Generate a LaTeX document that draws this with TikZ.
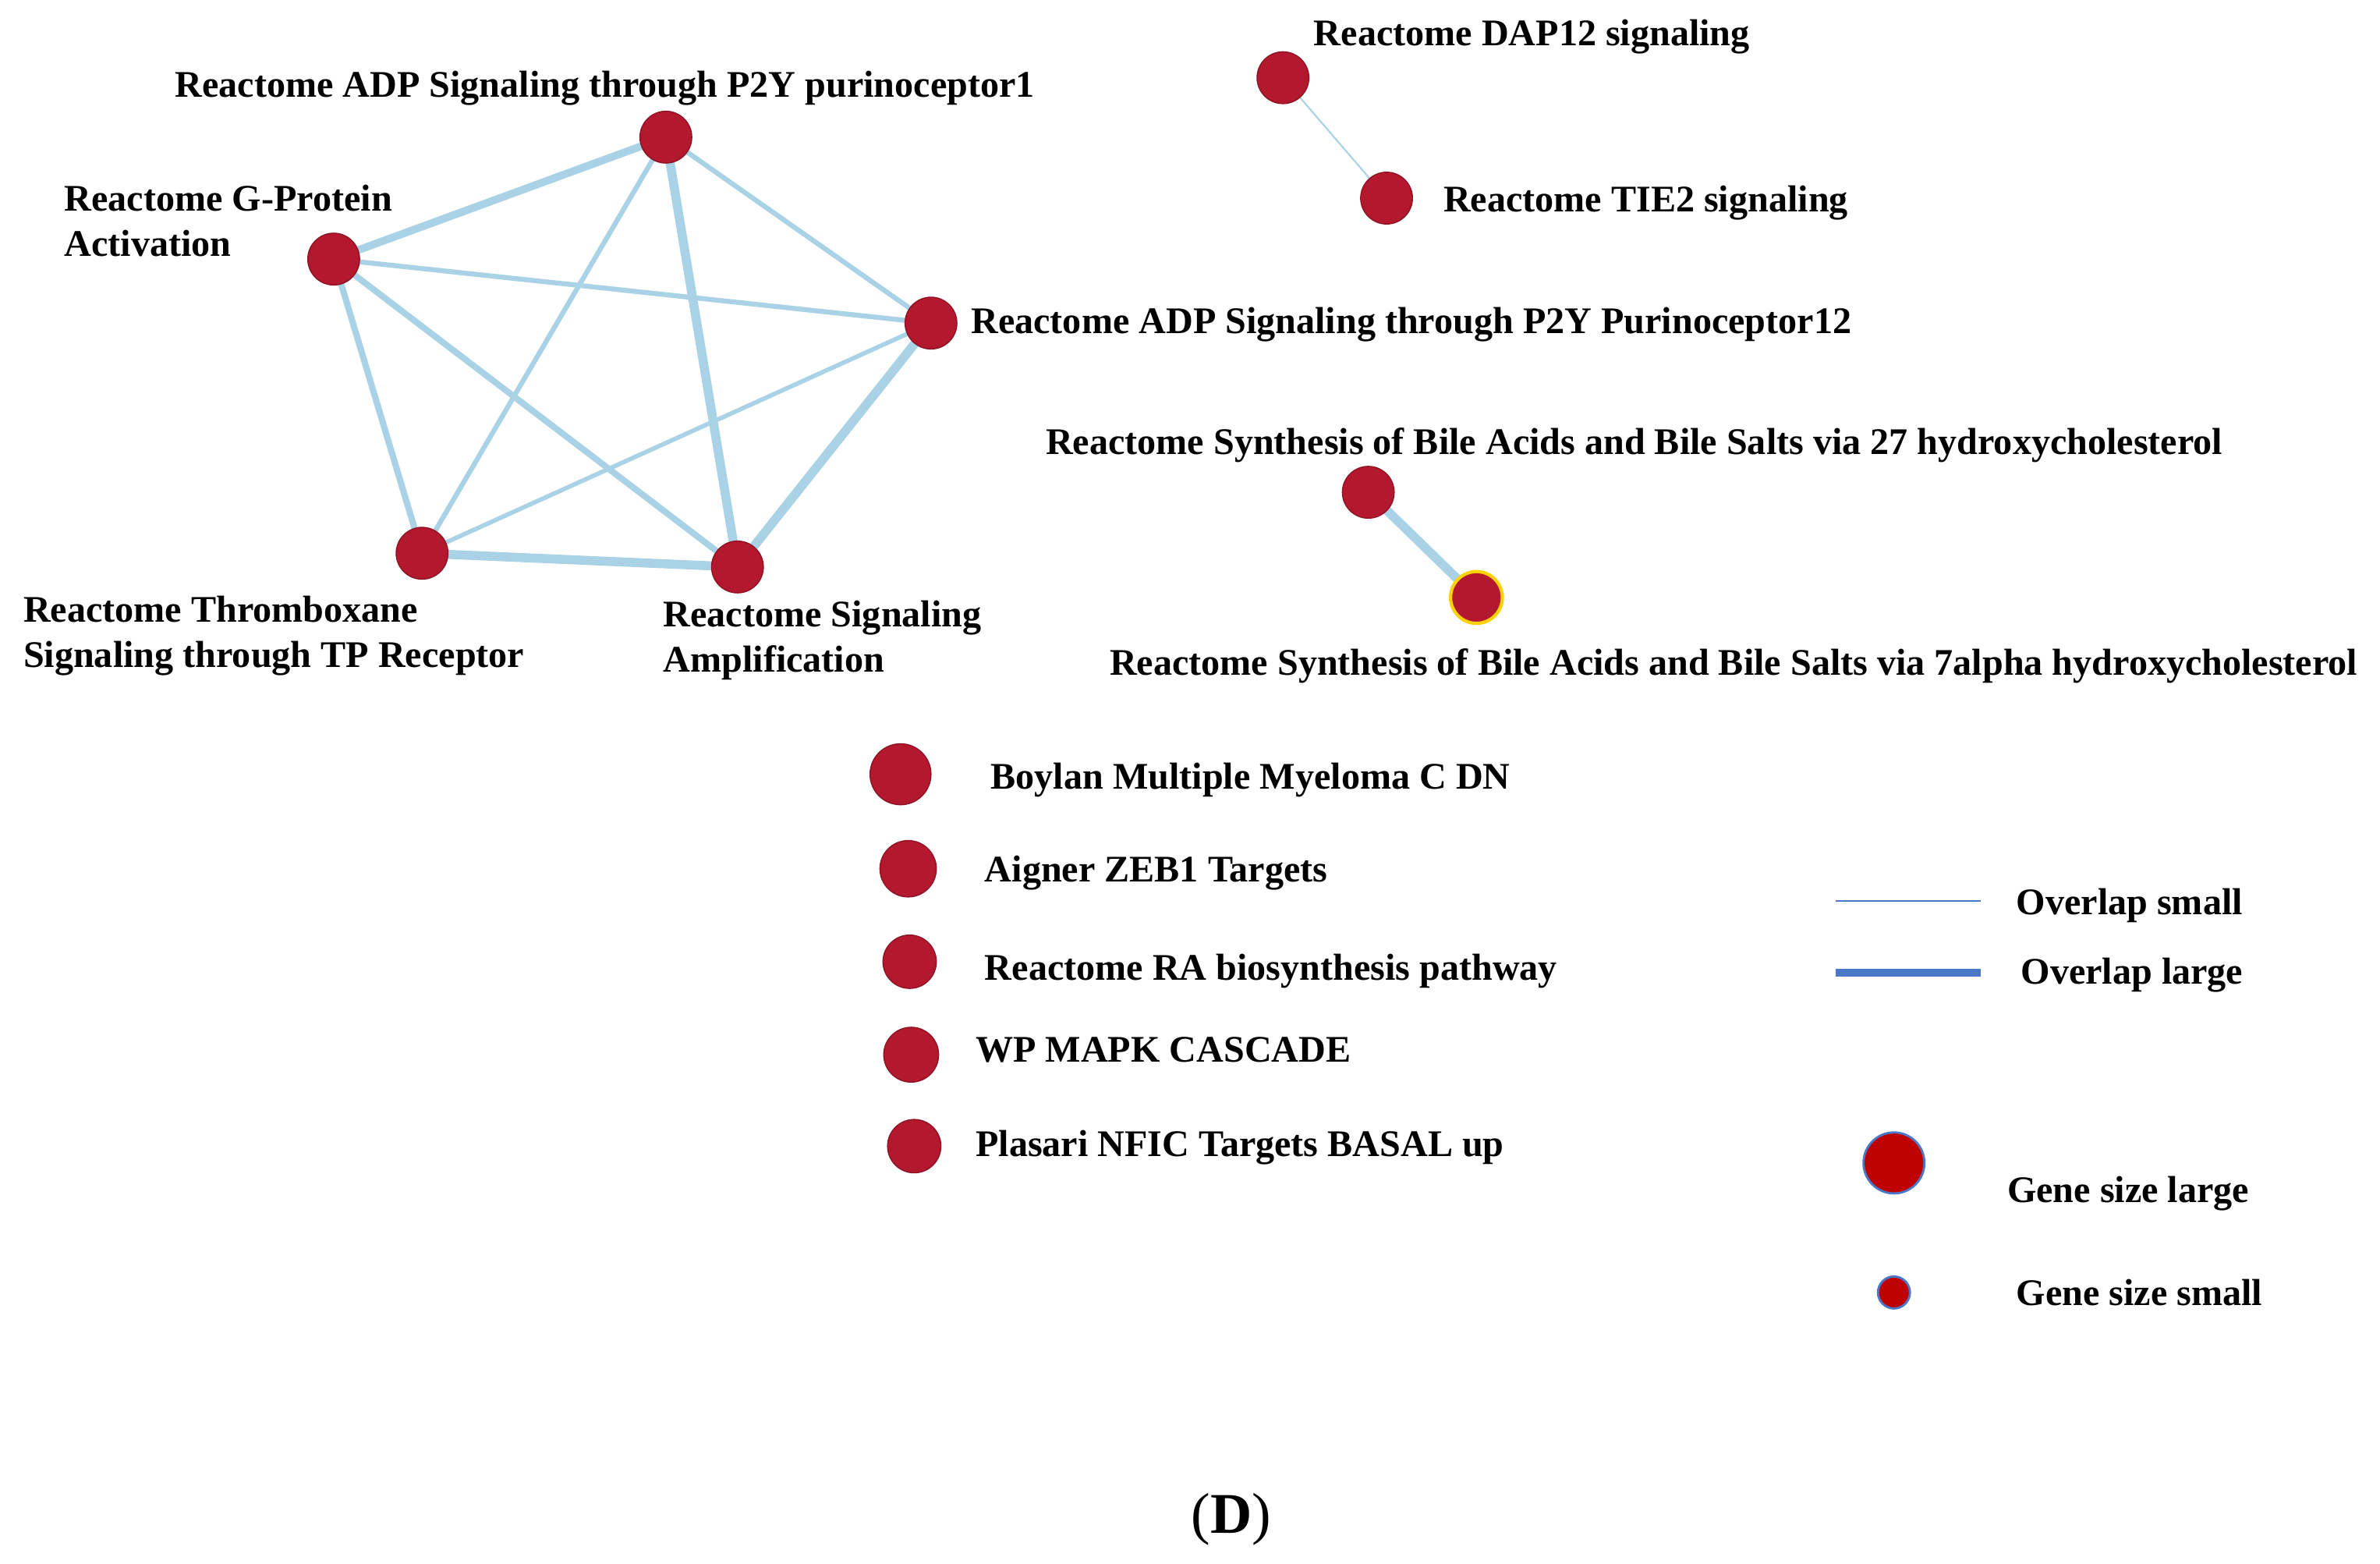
\documentclass[tikz,border=0pt]{standalone}
\usepackage{fontspec}
\setmainfont{Liberation Serif}
\pgfdeclarelayer{bg}
\pgfsetlayers{bg,main}
\begin{document}
\begin{tikzpicture}[x=0.01954cm,y=-0.01954cm,
  pn/.style={circle,fill=nodered,draw=nodered!80!black,line width=0.4pt,minimum size=34*0.01954cm,inner sep=0pt},
  ed/.style={draw=edgeblue,line cap=round},
  lb/.style={font=\fontsize{13.7}{16.5}\selectfont\bfseries,inner sep=0pt,align=left}]
\definecolor{nodered}{HTML}{B3182E}
\definecolor{edgeblue}{HTML}{A9D2E6}
\definecolor{legblue}{HTML}{4A78C8}
\begin{pgfonlayer}{bg}
\fill[white] (0,0) rectangle (1562,1026);
\end{pgfonlayer}
\useasboundingbox (0,0) rectangle (1562,1026);
\node[pn] (adp1) at (437,90) {};
\node[pn] (gp) at (219,170) {};
\node[pn] (p12) at (611,212) {};
\node[pn] (tx) at (277,363) {};
\node[pn] (sa) at (484,372) {};
\node[pn] (dap) at (842,51) {};
\node[pn] (tie) at (910,130) {};
\node[pn] (b27) at (898,323) {};
\node[pn,draw=yellow!70!orange,line width=1.2pt] (b7) at (969,392) {};
\node[pn,minimum size=40*0.01954cm] (boy) at (591,508) {};
\node[pn,minimum size=37*0.01954cm] (aig) at (596,570) {};
\node[pn,minimum size=35*0.01954cm] (ra) at (597,631) {};
\node[pn,minimum size=36*0.01954cm] (wp) at (598,692) {};
\node[pn,minimum size=35*0.01954cm] (pla) at (600,752) {};
\begin{pgfonlayer}{bg}
\draw[ed,line width=2.8pt] (adp1.center) -- (gp.center);
\draw[ed,line width=1.8pt] (adp1.center) -- (p12.center);
\draw[ed,line width=1.8pt] (adp1.center) -- (tx.center);
\draw[ed,line width=3.3pt] (adp1.center) -- (sa.center);
\draw[ed,line width=1.8pt] (gp.center) -- (p12.center);
\draw[ed,line width=2.3pt] (gp.center) -- (tx.center);
\draw[ed,line width=2.3pt] (gp.center) -- (sa.center);
\draw[ed,line width=1.6pt] (p12.center) -- (tx.center);
\draw[ed,line width=3.3pt] (p12.center) -- (sa.center);
\draw[ed,line width=3.3pt] (tx.center) -- (sa.center);
\draw[ed,line width=0.6pt] (dap.center) -- (tie.center);
\draw[ed,line width=3.3pt] (b27.center) -- (b7.center);
\end{pgfonlayer}
\node[lb,anchor=center] at (397,58) {Reactome ADP Signaling through P2Y purinoceptor1};
\node[lb,anchor=west] at (42,145) {Reactome G-Protein\\Activation};
\node[lb,anchor=west] at (637,213) {Reactome ADP Signaling through P2Y Purinoceptor12};
\node[lb,anchor=west] at (15,417) {Reactome Thromboxane\\Signaling through TP Receptor};
\node[lb,anchor=west] at (435,420) {Reactome Signaling\\Amplification};
\node[lb,anchor=west] at (862,24) {Reactome DAP12 signaling};
\node[lb,anchor=west] at (947,133) {Reactome TIE2 signaling};
\node[lb,anchor=west] at (686,292) {Reactome Synthesis of Bile Acids and Bile Salts via 27 hydroxycholesterol};
\node[lb,anchor=west] at (728,437) {Reactome Synthesis of Bile Acids and Bile Salts via 7alpha hydroxycholesterol};
\node[lb,anchor=west] at (650,512) {Boylan Multiple Myeloma C DN};
\node[lb,anchor=west] at (646,573) {Aigner ZEB1 Targets};
\node[lb,anchor=west] at (646,637) {Reactome RA biosynthesis pathway};
\node[lb,anchor=west] at (640,689) {WP MAPK CASCADE};
\node[lb,anchor=west] at (640,753) {Plasari NFIC Targets BASAL up};
\coordinate (l1a) at (1205,591); \coordinate (l1b) at (1300,591);
\coordinate (l2a) at (1205,638); \coordinate (l2b) at (1300,638);
\draw[legblue,line width=0.6pt] (l1a) -- (l1b);
\draw[legblue,line width=2.8pt] (l2a) -- (l2b);
\node[lb,anchor=west] at (1323,594) {Overlap small};
\node[lb,anchor=west] at (1326,640) {Overlap large};
\node[circle,fill=red!75!black,draw=legblue,line width=0.8pt,minimum size=40*0.01954cm,inner sep=0pt] (gl) at (1243,763) {};
\node[circle,fill=red!75!black,draw=legblue,line width=0.8pt,minimum size=21*0.01954cm,inner sep=0pt] (gs) at (1243,848) {};
\node[lb,anchor=west] at (1317,783) {Gene size large};
\node[lb,anchor=west] at (1323,848) {Gene size small};
\node[font=\fontsize{21}{24}\selectfont,inner sep=0pt] at (808,997) {(\textbf{D})};
\end{tikzpicture}
\end{document}
